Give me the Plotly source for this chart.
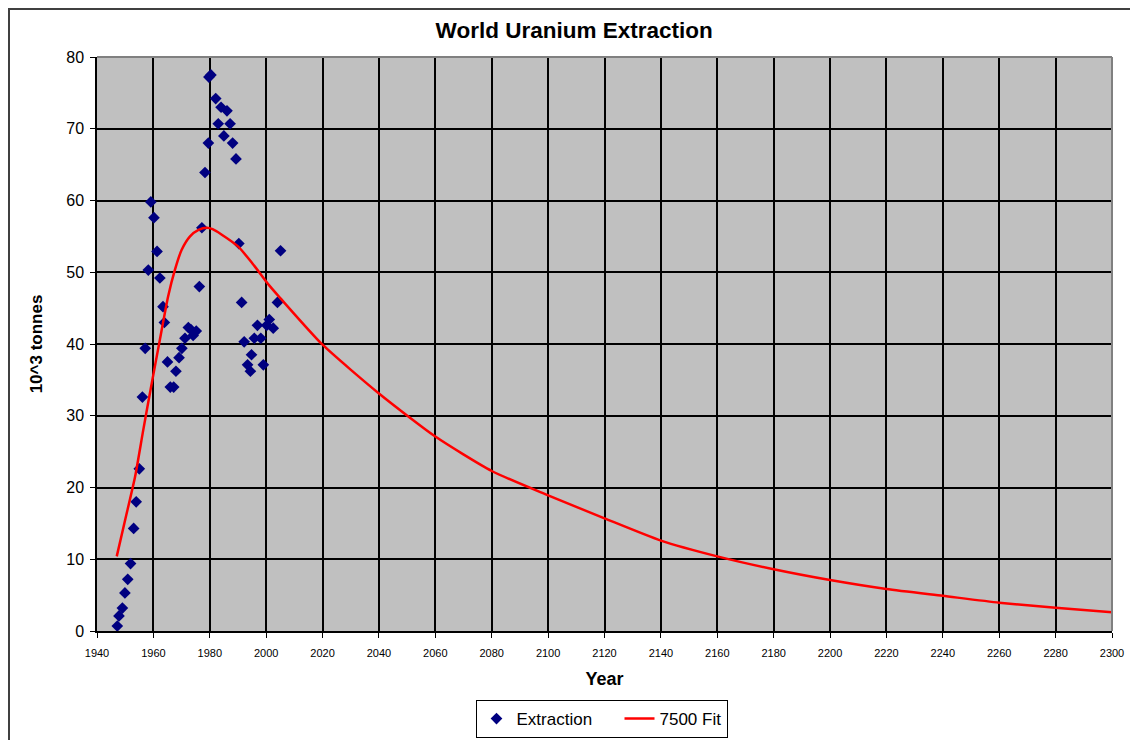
import plotly.graph_objects as go

# extraction points (year, 10^3 tonnes)
extraction_years = [1947.2, 1947.8, 1949.0, 1949.9, 1950.9, 1951.9, 1953.0, 1953.9, 1955.0,
                    1956.1, 1957.1, 1958.2, 1959.1, 1960.2, 1961.3, 1962.3, 1963.4, 1963.9,
                    1965.0, 1966.0, 1967.2, 1968.0, 1969.1, 1970.1, 1971.2, 1972.4, 1973.3,
                    1974.1, 1975.2, 1976.3, 1977.2, 1978.3, 1979.5, 1979.7, 1980.4, 1982.1,
                    1983.0, 1984.0, 1985.0, 1986.1, 1987.2, 1988.1, 1989.3, 1990.3, 1991.3,
                    1992.2, 1993.4, 1994.4, 1994.8, 1995.8, 1996.9, 1998.1, 1999.0, 2000.2,
                    2001.1, 2002.5, 2004.0, 2005.1]
extraction = [0.7, 2.1, 3.2, 5.3, 7.2, 9.4, 14.3, 18.0, 22.6,
              32.6, 39.4, 50.3, 59.8, 57.6, 52.9, 49.2, 45.2, 43.0,
              37.5, 34.0, 34.0, 36.2, 38.1, 39.4, 40.8, 42.3, 42.0,
              41.2, 41.8, 48.0, 56.2, 63.9, 68.0, 77.2, 77.5, 74.2,
              70.7, 73.0, 69.0, 72.5, 70.7, 68.0, 65.8, 54.0, 45.8,
              40.3, 37.1, 36.2, 38.5, 40.8, 42.6, 40.8, 37.1, 42.6,
              43.4, 42.2, 45.8, 53.0]

# 7500 fit curve, read at selected years
fit_years = [1947, 1950, 1953.5, 1956.4, 1959.4, 1962.3, 1965.2, 1967.6, 1970, 1973,
             1976, 1979, 1981, 1984, 1990, 1995, 2001, 2005, 2020, 2040, 2060, 2080,
             2100, 2120, 2140, 2160, 2180, 2200, 2220, 2240, 2260, 2280, 2300]
fit = [10.4, 15.5, 21.5, 28.0, 34.5, 40.6, 46.6, 50.3, 53.1, 55.0,
       55.9, 56.2, 56.0, 55.3, 53.6, 51.3, 48.2, 46.4, 39.9, 33.1, 27.1, 22.3,
       18.9, 15.7, 12.6, 10.4, 8.6, 7.1, 5.85, 4.9, 3.95, 3.25, 2.6]

x_ticks = list(range(1940, 2301, 20))
y_ticks = list(range(0, 81, 10))

fig = go.Figure()
fig.add_trace(go.Scatter(x=extraction_years, y=extraction, mode='markers', name='Extraction',
                         marker=dict(symbol='diamond', size=9, color='#000080'),
                         legendwidth=98))
fig.add_trace(go.Scatter(x=fit_years, y=fit, mode='lines', name='7500 Fit',
                         line=dict(color='#ff0000', width=2.5, shape='spline', smoothing=0.6)))

font = 'Liberation Sans, Arial, sans-serif'
# page has an 8px body margin, so the figure is sized to fit inside the window
fig.update_layout(
    width=1130, height=732,
    margin=dict(l=89, r=26, t=49, b=109),
    paper_bgcolor='white', plot_bgcolor='#c0c0c0',
    font=dict(family=font, color='black'),
    title=dict(text='<b>World Uranium Extraction</b>', x=0.501, xanchor='center',
               y=1 - 22 / 732, yanchor='middle', font=dict(size=22.5, family=font)),
    xaxis=dict(range=[1940, 2300], tickvals=x_ticks, ticks='outside', ticklen=5,
               tickcolor='black', showline=True, linecolor='black', linewidth=1.5,
               gridcolor='black', gridwidth=1.5, zeroline=False, ticklabelstandoff=6,
               automargin=False,
               tickfont=dict(size=11), title=dict(text='<b>Year</b>', font=dict(size=18), standoff=14)),
    yaxis=dict(range=[0, 80], tickvals=y_ticks, ticks='outside', ticklen=5,
               tickcolor='black', showline=True, linecolor='black', linewidth=1.5,
               gridcolor='black', gridwidth=1.5, zeroline=False, ticklabelstandoff=3,
               automargin=False,
               tickfont=dict(size=16), title=dict(text='<b>10^3 tonnes</b>', font=dict(size=17), standoff=19)),
    legend=dict(orientation='h', xref='container', yref='container',
                x=593.5 / 1130, xanchor='center', y=1 - 692 / 732, yanchor='top',
                bordercolor='black', borderwidth=1, font=dict(size=17), bgcolor='white'),
    showlegend=True,
    shapes=[
        dict(type='line', xref='paper', yref='paper', x0=0, x1=1, y0=1, y1=1,
             line=dict(color='#808080', width=2), layer='above'),
        dict(type='line', xref='paper', yref='paper', x0=1, x1=1, y0=0, y1=1,
             line=dict(color='#808080', width=2), layer='above'),
        dict(type='rect', xref='paper', yref='paper', x0=-88 / 1015, x1=1.1, y0=-0.25, y1=1 + 48 / 574,
             line=dict(color='#404040', width=2), fillcolor='rgba(0,0,0,0)', layer='above'),
    ],
)

fig.write_html("out.html")
